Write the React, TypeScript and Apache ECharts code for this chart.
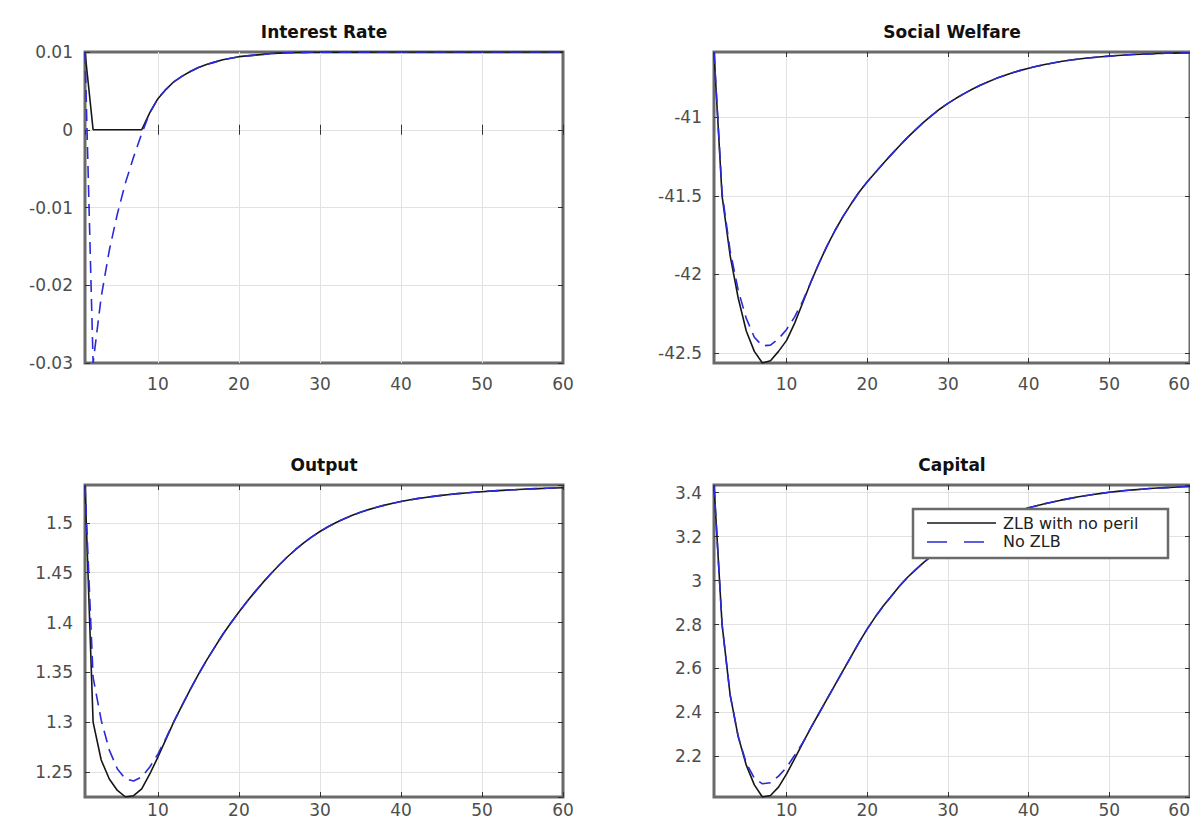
import { useEffect, useRef } from "react";
import * as echarts from "echarts";

// ---------- data ----------
const periods = [
  1, 2, 3, 4, 5, 6, 7, 8, 9, 10,
  11, 12, 13, 14, 15, 16, 17, 18, 19, 20,
  21, 22, 23, 24, 25, 26, 27, 28, 29, 30,
  31, 32, 33, 34, 35, 36, 37, 38, 39, 40,
  41, 42, 43, 44, 45, 46, 47, 48, 49, 50,
  51, 52, 53, 54, 55, 56, 57, 58, 59, 60,
];

const seriesNames = ["ZLB with no peril", "No ZLB"];
const titles = ["Interest Rate", "Social Welfare", "Output", "Capital"];

// Interest Rate
const irZlb = [
  0.01, 0, 0, 0, 0, 0, 0, 0, 0.0022, 0.004,
  0.0052, 0.0062, 0.0069, 0.0075, 0.008, 0.0084, 0.0087, 0.009, 0.0092, 0.0094,
  0.0095, 0.0096, 0.0097, 0.0098, 0.00985, 0.0099, 0.00993, 0.00995, 0.00996, 0.00997,
  0.00998, 0.00998, 0.00999, 0.00999, 0.00999, 0.00999, 0.01, 0.01, 0.01, 0.01,
  0.01, 0.01, 0.01, 0.01, 0.01, 0.01, 0.01, 0.01, 0.01, 0.01,
  0.01, 0.01, 0.01, 0.01, 0.01, 0.01, 0.01, 0.01, 0.01, 0.01,
];
const irNoZlbHead = [0.01, -0.03, -0.0215, -0.0155, -0.0108, -0.0068, -0.0035, -0.0005];
const irNoZlb = [...irNoZlbHead, ...irZlb.slice(irNoZlbHead.length)];

// Social Welfare
const swZlb = [
  -40.583, -41.5, -41.88, -42.15, -42.36, -42.49, -42.564, -42.55, -42.49, -42.42,
  -42.31, -42.18, -42.05, -41.93, -41.82, -41.72, -41.63, -41.55, -41.475, -41.41,
  -41.35, -41.292, -41.235, -41.18, -41.127, -41.077, -41.03, -40.986, -40.946, -40.91,
  -40.878, -40.848, -40.82, -40.795, -40.772, -40.751, -40.732, -40.715, -40.7, -40.686,
  -40.674, -40.663, -40.653, -40.644, -40.636, -40.629, -40.623, -40.618, -40.613, -40.609,
  -40.605, -40.602, -40.599, -40.597, -40.595, -40.593, -40.591, -40.59, -40.589, -40.588,
];
const swNoZlbHead = [
  -40.583, -41.48, -41.85, -42.1, -42.28, -42.4, -42.455, -42.45, -42.41, -42.35,
  -42.27, -42.17, -42.05,
];
const swNoZlb = [...swNoZlbHead, ...swZlb.slice(swNoZlbHead.length)];

// Output
const outZlb = [
  1.538, 1.3, 1.262, 1.243, 1.2315, 1.2249, 1.2262, 1.233, 1.248, 1.265,
  1.283, 1.301, 1.317, 1.333, 1.348, 1.362, 1.375, 1.388, 1.3995, 1.4105,
  1.421, 1.431, 1.4405, 1.4495, 1.458, 1.466, 1.4733, 1.48, 1.486, 1.4913,
  1.4961, 1.5004, 1.5042, 1.5076, 1.5106, 1.5133, 1.5157, 1.5178, 1.5197, 1.5214,
  1.5229, 1.5243, 1.5255, 1.5266, 1.5276, 1.5285, 1.5293, 1.53, 1.5307, 1.5313,
  1.5319, 1.5324, 1.5329, 1.5333, 1.5337, 1.5341, 1.5344, 1.5347, 1.535, 1.5352,
];
const outNoZlbHead = [1.538, 1.345, 1.302, 1.272, 1.253, 1.243, 1.241, 1.245, 1.255, 1.268, 1.284];
const outNoZlb = [...outNoZlbHead, ...outZlb.slice(outNoZlbHead.length)];

// Capital
const capZlb = [
  3.435, 2.8, 2.48, 2.29, 2.16, 2.07, 2.015, 2.022, 2.06, 2.12,
  2.19, 2.26, 2.33, 2.395, 2.46, 2.525, 2.59, 2.655, 2.72, 2.78,
  2.835, 2.885, 2.93, 2.975, 3.015, 3.05, 3.083, 3.113, 3.14, 3.165,
  3.188, 3.209, 3.229, 3.247, 3.264, 3.28, 3.295, 3.308, 3.32, 3.331,
  3.341, 3.35, 3.358, 3.366, 3.373, 3.38, 3.386, 3.392, 3.397, 3.402,
  3.406, 3.41, 3.413, 3.416, 3.419, 3.421, 3.423, 3.425, 3.427, 3.428,
];
const capNoZlbHead = [3.435, 2.8, 2.48, 2.29, 2.17, 2.1, 2.075, 2.08, 2.11, 2.15, 2.205, 2.262];
const capNoZlb = [...capNoZlbHead, ...capZlb.slice(capNoZlbHead.length)];

// ---------- styling / layout ----------
const FONT = "'DejaVu Sans', 'Liberation Sans', sans-serif";
const LABEL_COLOR = "#4d4d4d";
const BORDER_COLOR = "#6a6a6a";
const GRID_COLOR = "#e2e2e2";
const BLACK = "#161616";
const BLUE = "#2a2ad8";

const panels = [
  { title: titles[0], zlb: irZlb, nozlb: irNoZlb, grid: { left: 85, top: 52, width: 478, height: 311 }, splitNumber: 5, edgeLabels: true, xMargin: 12, lastRight: false },
  { title: titles[1], zlb: swZlb, nozlb: swNoZlb, grid: { left: 714, top: 52, width: 476, height: 311 }, splitNumber: 4, edgeLabels: false, xMargin: 12, lastRight: true },
  { title: titles[2], zlb: outZlb, nozlb: outNoZlb, grid: { left: 85, top: 485, width: 478, height: 312 }, splitNumber: 5, edgeLabels: false, xMargin: 4, lastRight: false },
  { title: titles[3], zlb: capZlb, nozlb: capNoZlb, grid: { left: 714, top: 485, width: 476, height: 312 }, splitNumber: 7, edgeLabels: false, xMargin: 4, lastRight: true },
];

function buildOption() {
  const grid: any[] = [];
  const xAxis: any[] = [];
  const yAxis: any[] = [];
  const series: any[] = [];
  const graphic: any[] = [];

  const tick = { show: true, inside: true, length: 5, lineStyle: { color: "#333", width: 1 } };
  const labelStyle = { color: LABEL_COLOR, fontFamily: FONT, fontSize: 17 };

  panels.forEach((p, i) => {
    grid.push({
      ...p.grid,
      show: true,
      borderColor: BORDER_COLOR,
      borderWidth: 3,
      backgroundColor: "transparent",
      containLabel: false,
      outerBoundsMode: "none",
    });
    const lo = Math.min(...p.zlb, ...p.nozlb);
    const hi = Math.max(...p.zlb, ...p.nozlb);

    xAxis.push({
      type: "value",
      gridIndex: i,
      position: "bottom",
      min: periods[0],
      max: periods[periods.length - 1],
      splitNumber: 5,
      axisLine: { show: false },
      axisTick: tick,
      axisLabel: {
        ...labelStyle,
        margin: p.xMargin,
        showMinLabel: false,
        showMaxLabel: true,
        ...(p.lastRight ? { alignMaxLabel: "right" } : {}),
      },
      splitLine: { show: true, showMinLine: false, showMaxLine: false, lineStyle: { color: GRID_COLOR, width: 1 } },
    });
    xAxis.push({
      type: "value",
      gridIndex: i,
      position: "top",
      min: periods[0],
      max: periods[periods.length - 1],
      splitNumber: 5,
      axisLine: { show: false },
      axisTick: tick,
      axisLabel: { show: false },
      splitLine: { show: false },
    });
    yAxis.push({
      type: "value",
      gridIndex: i,
      position: "left",
      min: lo,
      max: hi,
      splitNumber: p.splitNumber,
      axisLine: { show: false },
      axisTick: tick,
      axisLabel: { ...labelStyle, margin: 12, showMinLabel: p.edgeLabels, showMaxLabel: p.edgeLabels },
      splitLine: { show: true, showMinLine: false, showMaxLine: false, lineStyle: { color: GRID_COLOR, width: 1 } },
    });
    yAxis.push({
      type: "value",
      gridIndex: i,
      position: "right",
      min: lo,
      max: hi,
      splitNumber: p.splitNumber,
      axisLine: { show: false },
      axisTick: tick,
      axisLabel: { show: false },
      splitLine: { show: false },
    });

    series.push({
      type: "line",
      name: seriesNames[0],
      xAxisIndex: 2 * i,
      yAxisIndex: 2 * i,
      data: periods.map((x, k) => [x, p.zlb[k]]),
      symbol: "none",
      lineStyle: { color: BLACK, width: 1.6 },
      itemStyle: { color: BLACK },
      z: 3,
    });
    series.push({
      type: "line",
      name: seriesNames[1],
      xAxisIndex: 2 * i,
      yAxisIndex: 2 * i,
      data: periods.map((x, k) => [x, p.nozlb[k]]),
      symbol: "none",
      lineStyle: { color: BLUE, width: 1.6, type: [12, 7] },
      itemStyle: { color: BLUE },
      z: 4,
    });

    graphic.push({
      type: "text",
      x: p.grid.left + p.grid.width / 2,
      y: p.grid.top - 20,
      style: {
        text: p.title,
        align: "center",
        verticalAlign: "middle",
        fill: "#111",
        font: `bold 17px ${FONT}`,
      },
    });
  });

  // legend (drawn inside the Capital panel)
  const lg = { x: 913, y: 509, w: 255, h: 49 };
  graphic.push({
    type: "rect",
    z: 100,
    shape: { x: lg.x, y: lg.y, width: lg.w, height: lg.h },
    style: { fill: "#fff", stroke: BORDER_COLOR, lineWidth: 2.5 },
  });
  graphic.push({
    type: "line",
    z: 101,
    shape: { x1: lg.x + 14, y1: lg.y + 14, x2: lg.x + 83, y2: lg.y + 14 },
    style: { stroke: BLACK, lineWidth: 1.6 },
  });
  graphic.push({
    type: "line",
    z: 101,
    shape: { x1: lg.x + 14, y1: lg.y + 33, x2: lg.x + 83, y2: lg.y + 33 },
    style: { stroke: BLUE, lineWidth: 1.6, lineDash: [20, 17] },
  });
  graphic.push({
    type: "text",
    z: 101,
    x: lg.x + 90,
    y: lg.y + 14,
    style: { text: seriesNames[0], verticalAlign: "middle", fill: "#222", font: `16px ${FONT}` },
  });
  graphic.push({
    type: "text",
    z: 101,
    x: lg.x + 90,
    y: lg.y + 32,
    style: { text: seriesNames[1], verticalAlign: "middle", fill: "#222", font: `16px ${FONT}` },
  });

  return {
    animation: false,
    backgroundColor: "#ffffff",
    grid,
    xAxis,
    yAxis,
    series,
    graphic,
  };
}

export default function App() {
  const ref = useRef<HTMLDivElement>(null);
  useEffect(() => {
    if (!ref.current) return;
    const chart = echarts.init(ref.current, null, { renderer: "svg" });
    chart.setOption(buildOption() as any);
    return () => {
      chart.dispose();
    };
  }, []);
  return (
    <div
      ref={ref}
      style={{ position: "fixed", left: 0, top: 0, width: 1190, height: 822, background: "#fff" }}
    />
  );
}
